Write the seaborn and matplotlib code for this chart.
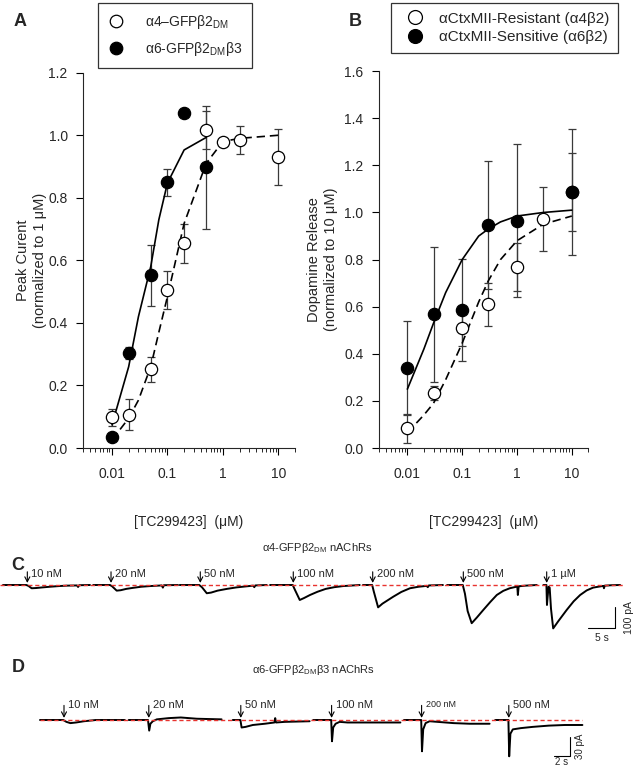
import numpy as np
import matplotlib
matplotlib.use("Agg")
from matplotlib import pyplot as plt
from matplotlib.lines import Line2D
from matplotlib.ticker import FixedLocator, LogLocator, NullFormatter
import seaborn as sns

# ---------------- panel A: oocyte peak currents ----------------
a4_conc = [0.01, 0.02, 0.05, 0.1, 0.2, 0.5, 1, 2, 10]
a4_resp = [0.098, 0.106, 0.252, 0.505, 0.655, 1.017, 0.977, 0.985, 0.931]
a4_sem = [0.027, 0.05, 0.04, 0.06, 0.062, 0.06, 0.0, 0.045, 0.09]
a6_conc = [0.01, 0.02, 0.05, 0.1, 0.2, 0.5]
a6_resp = [0.034, 0.303, 0.552, 0.849, 1.07, 0.897]
a6_sem = [0.0, 0.02, 0.098, 0.043, 0.0, 0.196]
a4_fit_x = [0.01, 0.02, 0.03, 0.05, 0.07, 0.1, 0.2, 0.5, 1, 2, 10]
a4_fit_y = [0.026, 0.095, 0.153, 0.26, 0.37, 0.484, 0.718, 0.91, 0.98, 0.99, 1.0]
a6_fit_x = [0.01, 0.02, 0.03, 0.05, 0.07, 0.1, 0.2, 0.5]
a6_fit_y = [0.074, 0.26, 0.42, 0.58, 0.73, 0.847, 0.953, 0.993]
a_yticks = [0.0, 0.2, 0.4, 0.6, 0.8, 1.0, 1.2]

# ---------------- panel B: dopamine release ----------------
res_conc = [0.01, 0.03, 0.1, 0.3, 1, 3, 10]
res_resp = [0.083, 0.232, 0.511, 0.61, 0.77, 0.972, 1.087]
res_sem = [0.063, 0.03, 0.078, 0.09, 0.102, 0.135, 0.164]
sen_conc = [0.01, 0.03, 0.1, 0.3, 1, 10]
sen_resp = [0.34, 0.568, 0.586, 0.947, 0.965, 1.088]
sen_sem = [0.2, 0.287, 0.217, 0.272, 0.325, 0.267]
res_fit_x = [0.01, 0.02, 0.03, 0.05, 0.1, 0.2, 0.3, 0.5, 1, 3, 10]
res_fit_y = [0.065, 0.14, 0.19, 0.29, 0.445, 0.62, 0.71, 0.80, 0.88, 0.95, 0.985]
sen_fit_x = [0.01, 0.02, 0.03, 0.05, 0.1, 0.2, 0.3, 0.5, 1, 3, 10]
sen_fit_y = [0.25, 0.42, 0.53, 0.66, 0.80, 0.90, 0.93, 0.96, 0.985, 1.0, 1.01]
b_yticks = [0.0, 0.2, 0.4, 0.6, 0.8, 1.0, 1.2, 1.4, 1.6]
conc_ticks = [0.01, 0.1, 1, 10]
conc_labels = ["0.01", "0.1", "1", "10"]

# ---------------- panel C: α4 traces (s, pA) ----------------
c_doses = ["10 nM", "20 nM", "50 nM", "100 nM", "200 nM", "500 nM", "1 µM"]
c_arrow_t = [5.06, 20.56, 37.09, 54.31, 69.02, 85.80, 101.24]
c_trace_t = [
    [-4.5, -0.2, 0.2, 0.8, 1.6, 2.8, 4.2, 5.8, 7.3, 9.2, 9.4, 9.6, 11.6],
    [-3.3, -0.2, 0.2, 1.05, 1.8, 2.8, 4.1, 5.6, 7.2, 9.4, 9.6, 9.8, 12.4],
    [-3.8, -0.2, 0.3, 1.2, 2.0, 3.2, 4.9, 6.7, 8.6, 9.8, 10.0, 10.2, 12.3],
    [-4.3, -0.1, 0.3, 1.2, 2.0, 3.1, 4.5, 6.0, 7.6, 9.2, 12.3],
    [-1.8, -0.1, 0.2, 1.0, 1.8, 2.8, 3.8, 5.3, 6.9, 8.5, 10.0, 10.2, 10.4, 13.0],
    [-3.0, -0.1, 0.3, 0.8, 1.55, 2.5, 3.7, 5.0, 6.2, 7.4, 8.6, 10.0, 10.1, 10.25, 11.5, 13.6],
    [-0.6, -0.05, 0.05, 0.15, 0.35, 0.55, 0.8, 1.2, 2.2, 3.7, 5.0, 6.2, 7.4, 8.6,
     10.5, 10.6, 10.75, 12.0, 13.6],
]
c_trace_i = [
    [0, 0, -4, -15, -14, -11, -8, -5, -3, -2, -9, -1, 0],
    [0, 0, -6, -26, -24, -18, -13, -8, -5, -2, -12, -1, 0],
    [0, 0, -10, -38, -35, -26, -18, -11, -6, -3, -10, -2, 0],
    [0, 0, -22, -69, -60, -46, -31, -18, -10, -5, 0],
    [0, 0, -30, -103, -86, -70, -54, -32, -15, -8, -4, -10, -2, 0],
    [0, 0, -40, -120, -176, -150, -115, -78, -46, -27, -15, -7, -46, -6, -3, 0],
    [0, 0, -92, -60, -8, -12, -110, -200, -165, -115, -75, -46, -25, -12,
     -4, -15, -3, -1, 0],
]

# ---------------- panel D: α6 traces (s, pA) ----------------
d_doses = ["10 nM", "20 nM", "50 nM", "100 nM", "200 nM", "500 nM"]
d_arrow_t = [8.0, 18.6, 30.1, 41.45, 52.7, 63.6]
d_trace_t = [
    [-3.0, -0.1, 0.3, 0.8, 1.5, 2.5, 4.0, 7.6],
    [-2.5, -0.1, 0.05, 0.2, 0.5, 1.0, 2.5, 4.0, 6.0, 9.1],
    [-1.0, -0.05, 0.1, 0.6, 1.5, 3.0, 4.2, 4.3, 4.4, 5.5, 8.6],
    [-2.3, -0.05, 0.05, 0.2, 0.5, 1.0, 2.0, 4.0, 6.0, 8.6],
    [-2.2, -0.05, 0.05, 0.2, 0.5, 1.0, 2.0, 4.0, 6.0, 8.5],
    [-1.7, -0.05, 0.05, 0.2, 0.5, 1.5, 3.0, 5.0, 7.0, 9.2],
]
d_trace_i = [
    [0, 0, -3, -5, -4, -2, 0, 0],
    [0, 0, -17, -6, -2, 1, 3, 4, 2, 1],
    [0, 0, -12, -11, -8, -6, -4, 3, -4, -3, -2],
    [0, 0, -34, -12, -6, -3, -4, -4, -4, -4],
    [0, 0, -50, -15, -5, -2, -3, -5, -6, -6],
    [0, 0, -58, -22, -15, -13, -11, -9, -8, -8],
]
d_label_size = [8, 8, 8, 8, 6.5, 8]

# ---------------- layout (pixels of the 634x766 figure) ----------------
W, H = 634, 766
sns.set_style("ticks")
plt.rcParams["font.family"] = ["Liberation Sans", "DejaVu Sans"]
plt.rcParams["mathtext.fontset"] = "custom"
plt.rcParams["mathtext.rm"] = "Liberation Sans"
plt.rcParams["lines.scale_dashes"] = False

fig = plt.figure(figsize=(W / 100, H / 100), dpi=100)


def px_axes(left, top, right, bottom):
    return fig.add_axes([left / W, 1 - bottom / H, (right - left) / W, (bottom - top) / H])


def plot_points(ax, x, y, err, filled):
    ax.errorbar(x, y, yerr=err, fmt="none", ecolor="#3a3a3a", elinewidth=0.9,
                capsize=3, capthick=0.9, zorder=2)
    sns.scatterplot(x=x, y=y, ax=ax, s=78, color="black" if filled else "white",
                    edgecolor="black", linewidth=0.9, zorder=4, legend=False)


def plot_fit(ax, x, y, dashed):
    sns.lineplot(x=x, y=y, ax=ax, color="black", lw=1.2, estimator=None, sort=False, zorder=3)
    if dashed:
        ax.lines[-1].set_dashes([6, 3.5])


def style_dose_axis(ax, yticks, ylabel, ylabel_x):
    ax.set_xscale("log")
    ax.set_xlim(0.003, 20)
    ax.set_ylim(0, yticks[-1])
    ax.xaxis.set_major_locator(FixedLocator(conc_ticks))
    ax.set_xticklabels(conc_labels)
    ax.xaxis.set_minor_locator(LogLocator(base=10, subs=np.arange(2, 10), numticks=20))
    ax.xaxis.set_minor_formatter(NullFormatter())
    ax.set_yticks(yticks)
    ax.set_yticklabels([f"{v:.1f}" for v in yticks])
    sns.despine(ax=ax)
    for sp in ax.spines.values():
        sp.set_linewidth(0.8)
    ax.tick_params(which="major", direction="out", length=5, width=0.8, labelsize=10, color="black")
    ax.tick_params(which="minor", direction="out", length=3, width=0.7)
    ax.tick_params(axis="x", pad=9)
    ax.tick_params(axis="y", pad=6)
    ax.set_xlabel("[TC299423]  (μM)", fontsize=10)
    ax.xaxis.set_label_coords(0.5, -0.178)
    ax.set_ylabel(ylabel, fontsize=10.5, linespacing=1.25)
    ax.yaxis.set_label_coords(ylabel_x, 0.5)


def legend_handles(labels, ms):
    return [Line2D([], [], marker="o", ls="none", ms=ms, mfc="white", mec="black", mew=0.9),
            Line2D([], [], marker="o", ls="none", ms=ms, mfc="black", mec="black", mew=0.9)], labels


# ---------------- A ----------------
ax_a = px_axes(83, 72.7, 295, 448)
plot_fit(ax_a, a4_fit_x, a4_fit_y, dashed=True)
plot_fit(ax_a, a6_fit_x, a6_fit_y, dashed=False)
plot_points(ax_a, a4_conc, a4_resp, a4_sem, filled=False)
plot_points(ax_a, a6_conc, a6_resp, a6_sem, filled=True)
style_dose_axis(ax_a, a_yticks, "Peak Curent\n(normalized to 1 μM)", -0.17)

h, l = legend_handles(["α4–GFPβ2$_{\\mathregular{DM}}$", "α6-GFPβ2$_{\\mathregular{DM}}$β3"], 9)
leg = fig.legend(h, l, loc="upper left", bbox_to_anchor=(97.7 / W, 1 - 3.3 / H),
                 borderaxespad=0, frameon=True, fancybox=False, edgecolor="black",
                 fontsize=10, handlelength=1.2, handletextpad=1.5, borderpad=0.7,
                 labelspacing=0.65)
leg.get_frame().set_linewidth(0.9)

# ---------------- B ----------------
ax_b = px_axes(378.7, 71.2, 588.3, 448)
plot_fit(ax_b, res_fit_x, res_fit_y, dashed=True)
plot_fit(ax_b, sen_fit_x, sen_fit_y, dashed=False)
plot_points(ax_b, res_conc, res_resp, res_sem, filled=False)
plot_points(ax_b, sen_conc, sen_resp, sen_sem, filled=True)
style_dose_axis(ax_b, b_yticks, "Dopamine Release\n(normalized to 10 μM)", -0.194)

h, l = legend_handles(["αCtxMII-Resistant (α4β2)", "αCtxMII-Sensitive (α6β2)"], 10)
leg = fig.legend(h, l, loc="upper left", bbox_to_anchor=(391 / W, 1 - 3.3 / H),
                 borderaxespad=0, frameon=True, fancybox=False, edgecolor="black",
                 fontsize=11, handlelength=2.0, handletextpad=0.6, borderpad=0.55,
                 labelspacing=0.3)
leg.get_frame().set_linewidth(0.9)

# ---------------- panel letters and headers ----------------
for letter, (x, y) in zip("ABCD", [(20, 22), (355, 21), (18, 566), (18, 667)]):
    fig.text(x / W, 1 - y / H, letter, fontsize=13, fontweight="bold", ha="center", va="center")
fig.text(317 / W, 1 - 548 / H, "α4-GFPβ2$_{\\mathregular{DM}}$ nAChRs", fontsize=8,
         ha="center", va="center")
fig.text(313 / W, 1 - 670 / H, "α6-GFPβ2$_{\\mathregular{DM}}$β3 nAChRs", fontsize=8,
         ha="center", va="center")


def draw_traces(ax, arrow_t, trace_t, trace_i, doses, sizes, arrow_len, label_dy):
    for k, (t0, t, cur, dose) in enumerate(zip(arrow_t, trace_t, trace_i, doses)):
        sns.lineplot(x=np.add(t0, t), y=cur, ax=ax, color="black", lw=1.4,
                     estimator=None, sort=False, zorder=3)
        ax.annotate("", xy=(t0, 0), xycoords="data", xytext=(0, arrow_len),
                    textcoords="offset points",
                    arrowprops=dict(arrowstyle="->,head_length=0.35,head_width=0.18",
                                    lw=0.8, color="black", shrinkA=0, shrinkB=1.5))
        ax.annotate(dose, xy=(t0, 0), xytext=(3, label_dy), textcoords="offset points",
                    ha="left", va="center", fontsize=sizes[k])


# ---------------- C ----------------
ax_c = px_axes(0, 560, W, 650)
ax_c.set_xlim(0, W / 5.4)
ax_c.set_ylim(-299.5, 115.2)
ax_c.axis("off")
ax_c.axhline(0, xmin=0, xmax=623 / W, color="#e8332f", lw=1.0, ls=(0, (3, 2)), zorder=4)
draw_traces(ax_c, c_arrow_t, c_trace_t, c_trace_i, c_doses, [8] * 7, 9.5, 8)
ax_c.plot([108.9, 113.9, 113.9], [-199.5, -199.5, -99.5], color="black", lw=0.8)
ax_c.text(111.4, -222, "5 s", fontsize=7.5, ha="center", va="top")
ax_c.text(115.6, -150, "100 pA", fontsize=7.5, ha="left", va="center", rotation=90)

# ---------------- D ----------------
ax_d = px_axes(0, 690, W, 766)
ax_d.set_xlim(0, W / 8)
ax_d.set_ylim(-73.5, 47.9)
ax_d.axis("off")
ax_d.axhline(0, xmin=40 / W, xmax=582 / W, color="#e8332f", lw=1.0, ls=(0, (3, 2)), zorder=4)
draw_traces(ax_d, d_arrow_t, d_trace_t, d_trace_i, d_doses, d_label_size, 10.5, 11)
ax_d.plot([69.25, 71.25, 71.25], [-57.5, -57.5, -27.5], color="black", lw=0.8)
ax_d.text(70.25, -58.5, "2 s", fontsize=7, ha="center", va="top")
ax_d.text(71.9, -42, "30 pA", fontsize=7, ha="left", va="center", rotation=90)

fig.savefig("out.png", dpi=100)
